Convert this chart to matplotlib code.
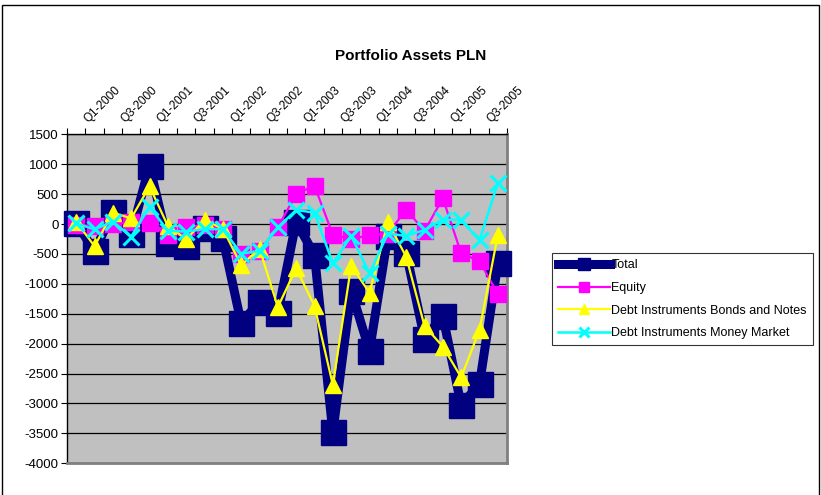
"""Portfolio Assets PLN - quarterly flows by instrument."""
import matplotlib

matplotlib.use("Agg")
import matplotlib.pyplot as plt
from matplotlib.patches import Rectangle

plt.rcParams["font.family"] = ["Liberation Sans", "DejaVu Sans"]
plt.rcParams["axes.unicode_minus"] = False

quarters = [f"Q{q}-{y}" for y in range(2000, 2006) for q in (1, 2, 3, 4)]

total = [20, -455, 195, -175, 975, -320, -370, -60, -240, -1655, -1300, -1490,
         40, -520, -3480, -1115, -2120, -200, -480, -1915, -1540, -3030, -2675, -660]
equity = [-15, -33, 0, 30, 10, -190, -56, -17, -89, -496, -451, -56,
          502, 640, -180, -250, -190, -160, 240, -115, 430, -490, -620, -1170]
bonds = [40, -370, 190, 95, 630, -30, -256, 67, -80, -690, -410, -1390,
         -740, -1370, -2690, -700, -1150, 30, -546, -1705, -2050, -2564, -1772, -184]
money_market = [10, -89, 40, -212, 290, -112, -128, -85, -89, -496, -451, -56,
                234, 190, -658, -200, -825, -160, -200, -100, 75, 67, -268, 680]

series = [
    ("Total", total, dict(color="#000080", lw=6.5, marker="s", ms=18,
                          mfc="#000080", mec="#000080")),
    ("Equity", equity, dict(color="#FF00FF", lw=1.6, marker="s", ms=11,
                            mfc="#FF00FF", mec="#FF00FF")),
    ("Debt Instruments Bonds and Notes", bonds,
     dict(color="#FFFF00", lw=1.6, marker="^", ms=12, mfc="#FFFF00", mec="#FFFF00")),
    ("Debt Instruments Money Market", money_market,
     dict(color="#00FFFF", lw=1.8, marker="x", ms=11, mew=2.2)),
]

fig = plt.figure(figsize=(8.21, 4.95), dpi=100)
ax = fig.add_axes([67 / 821, 1 - 463.2 / 495, 440 / 821, (463.2 - 134.3) / 495])
ax.set_facecolor("#C0C0C0")

x = [i + 0.5 for i in range(len(quarters))]
for name, values, style in series:
    ax.plot(x, values, label=name, zorder=3, clip_on=False, **style)

ax.set_xlim(0, len(quarters))
ax.set_ylim(-4000, 1500)
ax.set_yticks(range(-4000, 1501, 500))
ax.yaxis.grid(True, color="#000000", lw=0.9)
ax.set_axisbelow(True)
ax.tick_params(axis="y", labelsize=9.5, length=4, width=0.8, pad=2)

ax.xaxis.tick_top()
ax.set_xticks(range(len(quarters) + 1))
ax.set_xticklabels([])
ax.tick_params(axis="x", which="major", length=4, width=0.8, direction="out")
ax.set_xticks([v + 0.55 for v in x[::2]], minor=True)
ax.set_xticklabels(quarters[::2], minor=True, rotation=45, ha="left",
                   va="center", rotation_mode="anchor", fontsize=8.5)
ax.tick_params(axis="x", which="minor", length=0, pad=10)

for side in ("top", "left"):
    ax.spines[side].set_color("#000000")
    ax.spines[side].set_linewidth(1.0)
for side in ("right", "bottom"):
    ax.spines[side].set_color("#808080")
    ax.spines[side].set_linewidth(2.0)

fig.text(411 / 821, 1 - 56 / 495, "Portfolio Assets PLN", ha="center",
         va="center", fontsize=11, fontweight="bold")

leg = fig.legend(loc="upper left", bbox_to_anchor=(552 / 821, 1 - 253 / 495),
                 fontsize=9, frameon=True, fancybox=False, edgecolor="#000000",
                 handlelength=4.1, handletextpad=0.15, borderpad=0.5,
                 labelspacing=0.85, borderaxespad=0)
leg.get_frame().set_linewidth(0.8)
for h in leg.legend_handles:
    h.set_markersize(9 if h.get_label() == "Total" else 7)

fig.patches.append(Rectangle((2 / 821, -0.05), 817 / 821, 1.05 - 5 / 495,
                             transform=fig.transFigure, fill=False,
                             edgecolor="#000000", lw=1.0))

fig.savefig("out.png", dpi=100)
